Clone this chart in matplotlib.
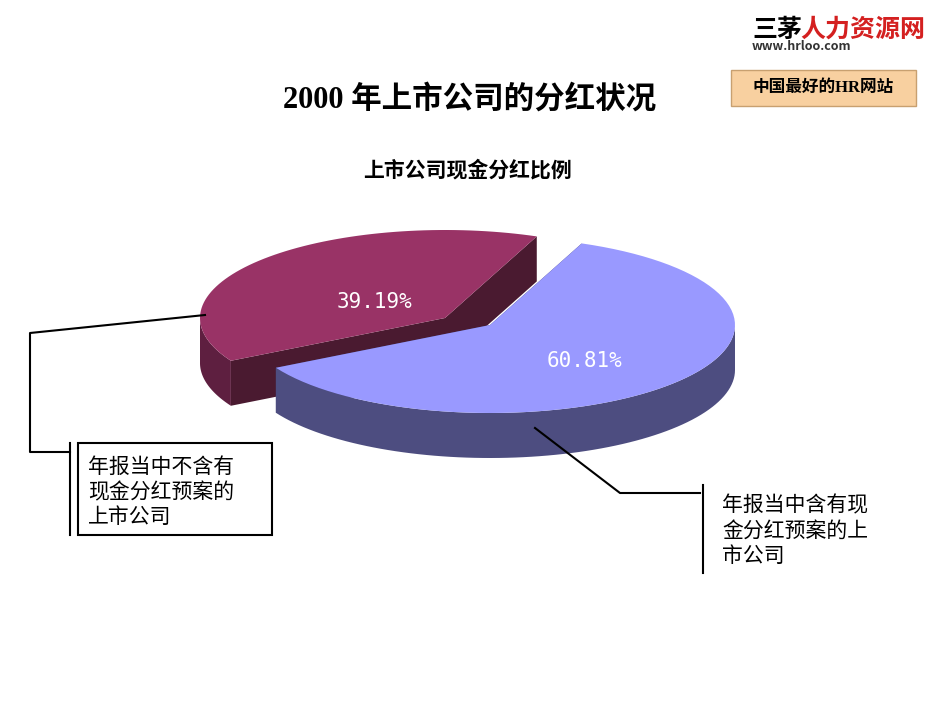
import matplotlib.pyplot as plt
import numpy as np
from matplotlib.patches import Polygon, Rectangle

plt.rcParams['font.family'] = ['Noto Sans CJK SC', 'DejaVu Sans']

labels = ['年报当中含有现\n金分红预案的上\n市公司', '年报当中不含有\n现金分红预案的\n上市公司']
values = [60.81, 39.19]
tops = ['#9999FF', '#993366']
sides = ['#4D4D80', '#5E1F40']
cuts = ['#3F3F6E', '#4A1A30']

fig = plt.figure(figsize=(9.5, 7.13), dpi=100)
ax = fig.add_axes([0, 0, 1, 1])
ax.set_xlim(0, 950)
ax.set_ylim(713, 0)
ax.axis('off')

rx, ry, depth = 245, 88, 45
start = 68.0
centers = [(490, 325), (445, 318)]

def arc(cx, cy, a0, a1, dy=0):
    t = np.radians(np.linspace(a0, a1, 80))
    return np.column_stack([cx + rx * np.cos(t), cy - ry * np.sin(t) + dy])

# angles: blue goes clockwise from start, red fills the rest
spans = []
a = start
for v in values:
    spans.append((a - v * 3.6, a))
    a -= v * 3.6

order = [1, 0]
for i in order:
    cx, cy = centers[i]
    a0, a1 = spans[i]
    # cut faces
    for ang in (a0, a1):
        p = arc(cx, cy, ang, ang, 0)[0]
        face = [(cx, cy), tuple(p), (p[0], p[1] + depth), (cx, cy + depth)]
        ax.add_patch(Polygon(face, closed=True, fc=cuts[i], ec='none'))
    # outer wall, front part only (angles in 180..360 mod 360)
    lo, hi = a0 % 360, a0 % 360 + (a1 - a0)
    for base in (180, 540):
        w0, w1 = max(lo, base), min(hi, base + 180)
        if w1 > w0:
            top = arc(cx, cy, w0, w1)
            bot = arc(cx, cy, w1, w0, depth)
            ax.add_patch(Polygon(np.vstack([top, bot]), closed=True, fc=sides[i], ec='none'))
    pts = np.vstack([[cx, cy], arc(cx, cy, a0, a1)])
    ax.add_patch(Polygon(pts, closed=True, fc=tops[i], ec='none'))
    mid = np.radians((a0 + a1) / 2)
    ax.text(cx + 0.45 * rx * np.cos(mid) + 12, cy - 0.45 * ry * np.sin(mid) + 10,
            f'{values[i]:.2f}%', color='white', fontsize=15, ha='center', va='center',
            family='DejaVu Sans Mono')

# callouts
ax.plot([205, 30, 30, 70], [315, 333, 452, 452], color='black', lw=1.5)
ax.plot([70, 70], [443, 535], color='black', lw=1.5)
ax.add_patch(Rectangle((78, 443), 194, 92, fc='white', ec='black', lw=1.5))
ax.text(88, 492, labels[1], fontsize=15, va='center', ha='left', linespacing=1.2)
ax.plot([535, 620, 700], [428, 493, 493], color='black', lw=1.5)
ax.plot([703, 703], [485, 573], color='black', lw=1.5)
ax.text(722, 531, labels[0], fontsize=15, va='center', ha='left', linespacing=1.2)

# titles
ax.text(470, 100, '2000 年上市公司的分红状况', fontsize=22, weight='bold', ha='center', va='center',
        family=['Liberation Serif', 'Noto Sans CJK SC'])
ax.text(467, 170, '上市公司现金分红比例', fontsize=15, weight='bold', ha='center', va='center')

# logo
ax.text(752, 30, '三茅', fontsize=18, weight='bold', ha='left', va='center')
ax.text(800, 30, '人力资源网', fontsize=18, weight='bold', color='#D42020', ha='left', va='center',
        style='italic')
ax.text(752, 47, 'www.hrloo.com', fontsize=9, weight='bold', color='#333333', ha='left', va='center')
ax.add_patch(Rectangle((731, 70), 185, 36, fc='#F8D0A0', ec='#C8A070', lw=1))
ax.text(823, 88, '中国最好的HR网站', fontsize=12, weight='bold', ha='center', va='center',
        family=['Liberation Serif', 'Noto Sans CJK SC'])

fig.savefig('out.png', dpi=100)
